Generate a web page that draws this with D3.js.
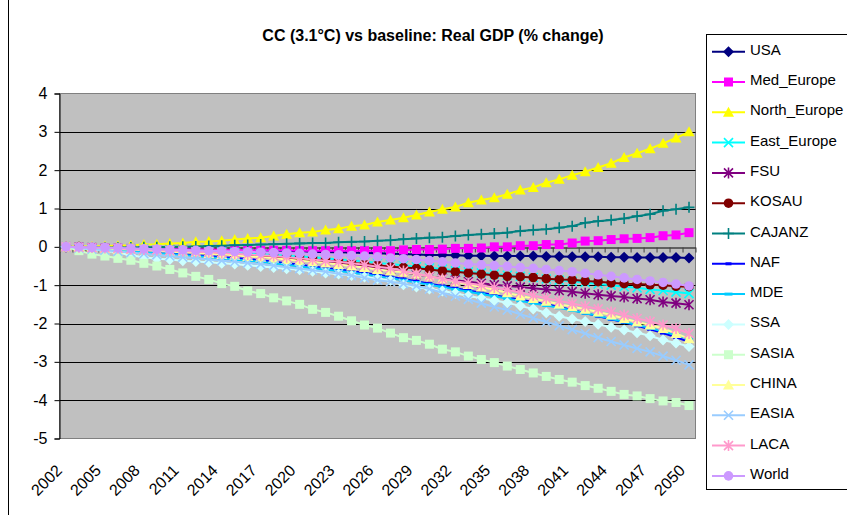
<!DOCTYPE html>
<html>
<head>
<meta charset="utf-8">
<script src="https://cdn.jsdelivr.net/npm/d3@7"></script>
<style>
  html, body { margin: 0; padding: 0; background: #ffffff; }
  svg { display: block; font-family: "Liberation Sans", Arial, sans-serif; }
</style>
</head>
<body>
<svg id="chart" width="847" height="515"></svg>
<script>
// Years on the category axis
const years = [2002,2003,2004,2005,2006,2007,2008,2009,2010,2011,2012,2013,2014,2015,2016,2017,2018,2019,2020,2021,2022,2023,2024,2025,2026,
  2027,2028,2029,2030,2031,2032,2033,2034,2035,2036,2037,2038,2039,2040,2041,2042,2043,2044,2045,2046,2047,2048,2049,2050];

// Labelled years (every third one)
const tickYears = [2002,2005,2008,2011,2014,2017,2020,2023,2026,2029,2032,2035,2038,2041,2044,2047,2050];

// Value-axis ticks
const yTicks = [-5,-4,-3,-2,-1,0,1,2,3,4];

// Real GDP, % change vs baseline, by region
const USA = [0,-0.01,-0.02,-0.02,-0.03,-0.04,-0.04,-0.05,-0.06,-0.06,-0.07,-0.08,-0.08,-0.09,-0.10,-0.10,-0.11,-0.12,-0.12,-0.13,-0.14,-0.14,-0.15,-0.16,-0.17,
  -0.18,-0.19,-0.20,-0.21,-0.21,-0.22,-0.23,-0.23,-0.24,-0.24,-0.24,-0.24,-0.25,-0.25,-0.26,-0.26,-0.26,-0.27,-0.27,-0.28,-0.28,-0.28,-0.28,-0.29];
const Med_Europe = [0,-0.01,-0.02,-0.03,-0.03,-0.04,-0.05,-0.05,-0.06,-0.06,-0.07,-0.07,-0.08,-0.08,-0.08,-0.09,-0.09,-0.09,-0.10,-0.10,-0.10,-0.10,-0.10,-0.10,-0.10,
  -0.10,-0.08,-0.07,-0.07,-0.06,-0.04,-0.04,-0.03,0.00,0.00,0.03,0.03,0.06,0.06,0.10,0.15,0.16,0.19,0.21,0.22,0.24,0.29,0.31,0.37];
const North_Europe = [0,0.01,0.01,0.02,0.03,0.04,0.06,0.07,0.09,0.10,0.13,0.14,0.16,0.19,0.22,0.24,0.28,0.33,0.37,0.39,0.44,0.47,0.54,0.57,0.65,
  0.70,0.76,0.83,0.91,0.98,1.04,1.15,1.22,1.28,1.37,1.48,1.55,1.67,1.76,1.87,1.96,2.07,2.18,2.33,2.44,2.56,2.70,2.84,3.00];
const East_Europe = [0,-0.01,-0.02,-0.03,-0.04,-0.05,-0.06,-0.07,-0.08,-0.09,-0.11,-0.12,-0.13,-0.15,-0.17,-0.19,-0.21,-0.23,-0.25,-0.27,-0.30,-0.33,-0.35,-0.38,-0.42,
  -0.45,-0.48,-0.52,-0.55,-0.58,-0.62,-0.65,-0.68,-0.71,-0.74,-0.77,-0.80,-0.84,-0.87,-0.90,-0.93,-0.97,-1.00,-1.04,-1.07,-1.11,-1.14,-1.18,-1.22];
const FSU = [0,-0.01,-0.02,-0.04,-0.05,-0.07,-0.09,-0.10,-0.12,-0.14,-0.16,-0.18,-0.20,-0.22,-0.24,-0.27,-0.29,-0.32,-0.34,-0.37,-0.40,-0.43,-0.46,-0.50,-0.55,
  -0.60,-0.66,-0.72,-0.77,-0.82,-0.87,-0.91,-0.95,-0.99,-1.02,-1.05,-1.08,-1.11,-1.14,-1.17,-1.21,-1.25,-1.28,-1.31,-1.35,-1.38,-1.44,-1.47,-1.51];
const KOSAU = [0,-0.01,-0.03,-0.04,-0.05,-0.07,-0.08,-0.10,-0.11,-0.13,-0.14,-0.16,-0.18,-0.20,-0.22,-0.24,-0.26,-0.28,-0.31,-0.33,-0.36,-0.39,-0.42,-0.45,-0.48,
  -0.52,-0.54,-0.56,-0.59,-0.63,-0.65,-0.68,-0.71,-0.74,-0.77,-0.78,-0.80,-0.83,-0.85,-0.86,-0.89,-0.91,-0.94,-0.96,-0.97,-0.99,-1.00,-1.03,-1.04];
const CAJANZ = [0,-0.01,-0.02,-0.02,-0.02,-0.02,-0.01,-0.01,0.00,0.00,0.01,0.02,0.03,0.04,0.05,0.06,0.07,0.08,0.09,0.10,0.10,0.12,0.13,0.14,0.16,
  0.17,0.20,0.22,0.24,0.25,0.28,0.31,0.33,0.35,0.37,0.41,0.44,0.46,0.50,0.54,0.63,0.67,0.70,0.74,0.80,0.85,0.94,0.98,1.03];
const NAF = [0,-0.02,-0.04,-0.06,-0.08,-0.10,-0.12,-0.14,-0.16,-0.19,-0.22,-0.24,-0.27,-0.29,-0.32,-0.35,-0.39,-0.43,-0.47,-0.51,-0.55,-0.59,-0.63,-0.68,-0.73,
  -0.78,-0.84,-0.90,-0.96,-1.02,-1.08,-1.14,-1.20,-1.26,-1.32,-1.38,-1.44,-1.50,-1.57,-1.65,-1.73,-1.81,-1.89,-1.97,-2.06,-2.15,-2.25,-2.36,-2.48];
const MDE = [0,-0.02,-0.04,-0.07,-0.09,-0.11,-0.14,-0.16,-0.19,-0.21,-0.24,-0.27,-0.30,-0.33,-0.36,-0.39,-0.43,-0.47,-0.51,-0.55,-0.59,-0.63,-0.67,-0.72,-0.77,
  -0.82,-0.87,-0.93,-0.99,-1.05,-1.11,-1.17,-1.23,-1.29,-1.35,-1.41,-1.47,-1.53,-1.59,-1.66,-1.73,-1.80,-1.88,-1.96,-2.04,-2.12,-2.21,-2.30,-2.40];
const SSA = [0,-0.03,-0.07,-0.11,-0.15,-0.22,-0.27,-0.31,-0.33,-0.36,-0.38,-0.40,-0.43,-0.45,-0.48,-0.51,-0.54,-0.57,-0.60,-0.64,-0.68,-0.71,-0.75,-0.79,-0.83,
  -0.88,-0.99,-1.05,-1.10,-1.15,-1.21,-1.28,-1.34,-1.40,-1.46,-1.54,-1.62,-1.72,-1.81,-1.88,-1.95,-2.02,-2.10,-2.17,-2.24,-2.32,-2.43,-2.51,-2.60];
const SASIA = [0,-0.10,-0.19,-0.24,-0.30,-0.35,-0.43,-0.50,-0.59,-0.68,-0.77,-0.85,-0.96,-1.03,-1.15,-1.22,-1.33,-1.41,-1.50,-1.63,-1.71,-1.81,-1.93,-2.04,-2.12,
  -2.25,-2.37,-2.44,-2.54,-2.67,-2.74,-2.85,-2.94,-3.02,-3.11,-3.20,-3.29,-3.38,-3.46,-3.53,-3.62,-3.69,-3.77,-3.85,-3.89,-3.96,-4.02,-4.06,-4.14];
const CHINA = [0,-0.01,-0.03,-0.04,-0.06,-0.07,-0.09,-0.11,-0.13,-0.14,-0.16,-0.18,-0.20,-0.22,-0.25,-0.27,-0.30,-0.33,-0.36,-0.39,-0.42,-0.46,-0.50,-0.54,-0.59,
  -0.63,-0.66,-0.71,-0.77,-0.83,-0.91,-0.98,-1.05,-1.12,-1.20,-1.28,-1.35,-1.42,-1.50,-1.56,-1.63,-1.70,-1.78,-1.87,-1.96,-2.04,-2.13,-2.26,-2.40];
const EASIA = [0,-0.03,-0.06,-0.09,-0.12,-0.15,-0.18,-0.21,-0.24,-0.27,-0.30,-0.33,-0.36,-0.39,-0.42,-0.45,-0.49,-0.53,-0.57,-0.61,-0.65,-0.70,-0.75,-0.81,-0.87,
  -0.91,-0.96,-1.02,-1.10,-1.20,-1.29,-1.37,-1.47,-1.57,-1.65,-1.76,-1.86,-1.96,-2.06,-2.16,-2.26,-2.37,-2.47,-2.56,-2.65,-2.74,-2.85,-2.96,-3.08];
const LACA = [0,-0.01,-0.02,-0.03,-0.04,-0.06,-0.07,-0.08,-0.10,-0.11,-0.13,-0.14,-0.16,-0.18,-0.20,-0.22,-0.24,-0.27,-0.30,-0.33,-0.36,-0.39,-0.43,-0.47,-0.52,
  -0.56,-0.63,-0.70,-0.77,-0.84,-0.90,-0.95,-1.00,-1.06,-1.12,-1.19,-1.27,-1.34,-1.41,-1.48,-1.55,-1.62,-1.70,-1.78,-1.87,-1.95,-2.04,-2.13,-2.26];
const World = [0,-0.01,-0.02,-0.02,-0.03,-0.04,-0.05,-0.06,-0.07,-0.08,-0.09,-0.10,-0.11,-0.12,-0.13,-0.14,-0.15,-0.16,-0.17,-0.19,-0.20,-0.21,-0.23,-0.24,-0.26,
  -0.29,-0.31,-0.33,-0.36,-0.39,-0.42,-0.45,-0.47,-0.49,-0.51,-0.54,-0.56,-0.59,-0.62,-0.65,-0.69,-0.73,-0.77,-0.81,-0.85,-0.89,-0.93,-0.97,-1.02];

// Series styling: colour and marker shape
const series = [
  { name: "USA",          values: USA,          color: "#000080", marker: "diamond" },
  { name: "Med_Europe",   values: Med_Europe,   color: "#FF00FF", marker: "square" },
  { name: "North_Europe", values: North_Europe, color: "#FFFF00", marker: "triangle" },
  { name: "East_Europe",  values: East_Europe,  color: "#00FFFF", marker: "x" },
  { name: "FSU",          values: FSU,          color: "#800080", marker: "star" },
  { name: "KOSAU",        values: KOSAU,        color: "#800000", marker: "circle" },
  { name: "CAJANZ",       values: CAJANZ,       color: "#008080", marker: "plus" },
  { name: "NAF",          values: NAF,          color: "#0000FF", marker: "dash" },
  { name: "MDE",          values: MDE,          color: "#00CCFF", marker: "longdash" },
  { name: "SSA",          values: SSA,          color: "#CCFFFF", marker: "diamond" },
  { name: "SASIA",        values: SASIA,        color: "#CCFFCC", marker: "square" },
  { name: "CHINA",        values: CHINA,        color: "#FFFF99", marker: "triangle" },
  { name: "EASIA",        values: EASIA,        color: "#99CCFF", marker: "x" },
  { name: "LACA",         values: LACA,         color: "#FF99CC", marker: "star" },
  { name: "World",        values: World,        color: "#CC99FF", marker: "circle" }
];

const svg = d3.select("#chart");
const plot = { left: 59.5, right: 695.5, top: 93.5, bottom: 438.5 };

const x = d3.scaleBand().domain(years).range([plot.left, plot.right]);
const xIdx = d3.scaleLinear().domain([0, years.length]).range([plot.left, plot.right]);
const y = d3.scaleLinear().domain([-5, 4]).range([plot.bottom, plot.top]);
const cx = yr => x(yr) + x.bandwidth() / 2;

// Chart-area frame (left edge lies inside the window)
svg.append("line").attr("x1", 8.5).attr("x2", 8.5).attr("y1", 0).attr("y2", 515)
  .attr("stroke", "#000").attr("stroke-width", 1);

// Title
svg.append("text").attr("x", 433).attr("y", 41).attr("text-anchor", "middle")
  .attr("font-size", 16).attr("font-weight", "bold").attr("fill", "#000")
  .text("CC (3.1°C) vs baseline: Real GDP (% change)");

// Plot background
svg.append("rect").attr("x", plot.left).attr("y", plot.top)
  .attr("width", plot.right - plot.left).attr("height", plot.bottom - plot.top)
  .attr("fill", "#C0C0C0").attr("stroke", "#808080").attr("stroke-width", 1);

// Horizontal gridlines
svg.append("g").selectAll("line").data(yTicks.filter(v => v > -5 && v < 4 && v !== 0)).join("line")
  .attr("x1", plot.left).attr("x2", plot.right)
  .attr("y1", d => Math.round(y(d)) + 0.5).attr("y2", d => Math.round(y(d)) + 0.5)
  .attr("stroke", "#000").attr("stroke-width", 1);

// Value axis
const yAxis = svg.append("g").attr("transform", `translate(${plot.left},0)`)
  .call(d3.axisLeft(y).tickValues(yTicks).tickFormat(d => String(d)).tickSize(5).tickPadding(7));
yAxis.select(".domain").attr("stroke", "#000");
yAxis.selectAll("text").attr("font-size", 16).attr("font-family", "Liberation Sans, Arial, sans-serif").attr("fill", "#000");

// Category axis line through zero with boundary ticks
const zeroY = Math.round(y(0)) + 0.5;
const xAxisZero = svg.append("g").attr("transform", `translate(0,${zeroY})`)
  .call(d3.axisBottom(xIdx).tickValues(d3.range(0, years.length + 1)).tickFormat("").tickSize(5).tickSizeOuter(0));
xAxisZero.select(".domain").attr("stroke", "#404040").attr("stroke-width", 1.5);
xAxisZero.selectAll(".tick line").attr("stroke", "#404040");

// Category labels along the bottom
const xLabels = svg.append("g").attr("transform", `translate(0,${plot.bottom})`)
  .call(d3.axisBottom(x).tickValues(tickYears).tickSize(0).tickPadding(0));
xLabels.select(".domain").remove();
xLabels.selectAll("text")
  .attr("font-size", 16).attr("font-family", "Liberation Sans, Arial, sans-serif").attr("fill", "#000")
  .attr("text-anchor", "end").attr("dy", null).attr("y", null)
  .attr("transform", "translate(-3,33) rotate(-45)");

// Marker shapes
function markerPath(kind) {
  switch (kind) {
    case "diamond":  return "M0,-5.5L5.5,0L0,5.5L-5.5,0Z";
    case "square":   return "M-4.5,-4.5H4.5V4.5H-4.5Z";
    case "triangle": return "M0,-5.5L5.5,4.5H-5.5Z";
    case "circle":   return d3.symbol(d3.symbolCircle, 72)();
    case "x":        return "M-4.5,-4.5L4.5,4.5M-4.5,4.5L4.5,-4.5";
    case "star":     return "M-4.5,-4.5L4.5,4.5M-4.5,4.5L4.5,-4.5M0,-5.5V5.5";
    case "plus":     return "M-5.5,0H5.5M0,-5.5V5.5";
    case "dash":     return "M-3,-1.5H3V1.5H-3Z";
    case "longdash": return "M-4,-1.5H4V1.5H-4Z";
  }
}
const openMarkers = new Set(["x", "star", "plus"]);

function drawMarker(sel, s) {
  const p = sel.append("path").attr("d", markerPath(s.marker));
  if (openMarkers.has(s.marker)) {
    p.attr("fill", "none").attr("stroke", s.color).attr("stroke-width", 1.6);
  } else {
    p.attr("fill", s.color).attr("stroke", "none");
  }
  return p;
}

// Series lines and markers
const line = d3.line().x((d, i) => cx(years[i])).y(d => y(d));
const seriesG = svg.append("g");
series.forEach(s => {
  const g = seriesG.append("g");
  g.append("path").datum(s.values).attr("d", line)
    .attr("fill", "none").attr("stroke", s.color).attr("stroke-width", 2);
  s.values.forEach((v, i) => {
    const m = g.append("g").attr("transform", `translate(${cx(years[i])},${y(v)})`);
    drawMarker(m, s);
  });
});

// Legend
const legend = { x: 706.5, y: 34.5, w: 160, h: 455, row0: 51.7, step: 30.3 };
svg.append("rect").attr("x", legend.x).attr("y", legend.y).attr("width", legend.w).attr("height", legend.h)
  .attr("fill", "#fff").attr("stroke", "#000").attr("stroke-width", 1);
series.forEach((s, i) => {
  const yy = legend.row0 + i * legend.step;
  const g = svg.append("g");
  g.append("line").attr("x1", 712).attr("x2", 745).attr("y1", yy).attr("y2", yy)
    .attr("stroke", s.color).attr("stroke-width", 2);
  const m = g.append("g").attr("transform", `translate(728.5,${yy})`);
  drawMarker(m, s);
  g.append("text").attr("x", 750).attr("y", yy).attr("dy", "0.2em")
    .attr("font-size", 15).attr("fill", "#000").text(s.name);
});
</script>
</body>
</html>
